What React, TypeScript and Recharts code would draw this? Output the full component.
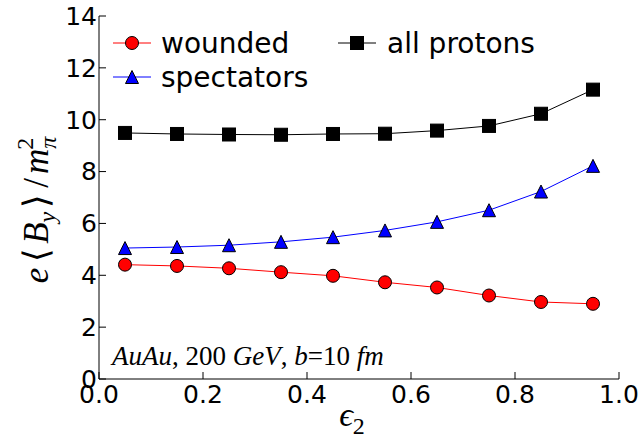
import { LineChart, Line, XAxis, YAxis, Customized } from "recharts";

const eps2 = [0.05, 0.15, 0.25, 0.35, 0.45, 0.55, 0.65, 0.75, 0.85, 0.95];
const wounded = [4.41, 4.36, 4.27, 4.12, 3.98, 3.73, 3.53, 3.22, 2.97, 2.9];
const spectators = [5.05, 5.09, 5.16, 5.29, 5.47, 5.73, 6.06, 6.51, 7.23, 8.22];
const allProtons = [9.49, 9.45, 9.43, 9.42, 9.45, 9.46, 9.58, 9.76, 10.23, 11.16];
const xTicks = [0, 0.2, 0.4, 0.6, 0.8, 1.0];
const yTicks = [0, 2, 4, 6, 8, 10, 12, 14];

const data = eps2.map((e, i) => ({
  eps: e,
  wounded: wounded[i],
  spectators: spectators[i],
  all: allProtons[i],
}));

const S = 6.5;
const tickFont = { fontFamily: "DejaVu Sans", fontSize: 25, fill: "#000" };
const mathFont = "Liberation Serif";

function Circle({ cx, cy }: any) {
  return <circle cx={cx} cy={cy} r={S} fill="#ff0000" stroke="#000" strokeWidth={1} />;
}
function Triangle({ cx, cy }: any) {
  return (
    <polygon
      points={`${cx},${cy - S} ${cx - S},${cy + S} ${cx + S},${cy + S}`}
      fill="#0000ff"
      stroke="#000"
      strokeWidth={1}
    />
  );
}
function Square({ cx, cy }: any) {
  return <rect x={cx - S} y={cy - S} width={2 * S} height={2 * S} fill="#000" stroke="#000" />;
}

function Overlay() {
  const legText = { fontFamily: "DejaVu Sans", fontSize: 28, fill: "#000" };
  return (
    <g>
      {/* legend */}
      <line x1={113} x2={151} y1={43} y2={43} stroke="#ff0000" />
      <Circle cx={132} cy={43} />
      <text x={161} y={53} {...legText}>wounded</text>
      <line x1={113} x2={151} y1={77} y2={77} stroke="#0000ff" />
      <Triangle cx={132} cy={77} />
      <text x={161} y={87} {...legText}>spectators</text>
      <line x1={338} x2={376} y1={43} y2={43} stroke="#000" />
      <Square cx={357} cy={43} />
      <text x={387} y={53} {...legText}>all protons</text>

      {/* annotation */}
      <text x={112} y={365} fontFamily={mathFont} fontSize={27} fill="#000">
        <tspan fontStyle="italic">AuAu</tspan>
        <tspan>, 200 </tspan>
        <tspan fontStyle="italic">GeV</tspan>
        <tspan>, </tspan>
        <tspan fontStyle="italic">b</tspan>
        <tspan>=10 </tspan>
        <tspan fontStyle="italic">fm</tspan>
      </text>

      {/* x label */}
      <text x={352} y={426} fontFamily={mathFont} fontSize={34} fill="#000" textAnchor="middle">
        <tspan fontStyle="italic">ϵ</tspan>
        <tspan fontSize={24} dy={8}>2</tspan>
      </text>

      {/* y label */}
      <text
        x={0}
        y={0}
        transform="translate(48,210) rotate(-90)"
        fontFamily={mathFont}
        fontSize={35}
        fill="#000"
        textAnchor="middle"
      >
        <tspan fontStyle="italic">e</tspan>
        <tspan dx={6}>⟨</tspan>
        <tspan fontStyle="italic" dx={4}>B</tspan>
        <tspan fontStyle="italic" fontSize={24} dy={7}>y</tspan>
        <tspan dy={-7} dx={4}>⟩</tspan>
        <tspan dx={6}>/</tspan>
        <tspan fontStyle="italic" dx={4}>m</tspan>
        <tspan fontStyle="italic" fontSize={24} dy={8}>π</tspan>
        <tspan fontSize={24} dx={-13} dy={-23}>2</tspan>
      </text>
    </g>
  );
}

export default function App() {
  return (
    <div style={{ position: "absolute", left: 0, top: 0, background: "#fff" }}>
      <LineChart width={644} height={442} data={data} margin={{ top: 16, right: 25, bottom: 0, left: 0 }}>
        <XAxis
          dataKey="eps"
          type="number"
          domain={[0, 1]}
          ticks={xTicks}
          tickFormatter={(v: number) => v.toFixed(1)}
          height={63}
          tickSize={-7}
          tickMargin={13}
          tick={tickFont}
          stroke="#000"
          allowDataOverflow
        />
        <XAxis
          xAxisId="t"
          orientation="top"
          type="number"
          domain={[0, 1]}
          ticks={xTicks}
          height={0}
          tickSize={-7}
          tick={false}
          stroke="#000"
        />
        <YAxis
          type="number"
          domain={[0, 14]}
          ticks={yTicks}
          width={99}
          tickSize={-7}
          tickMargin={9}
          tick={tickFont}
          stroke="#000"
        />
        <YAxis
          yAxisId="r"
          orientation="right"
          type="number"
          domain={[0, 14]}
          ticks={yTicks}
          width={0}
          tickSize={-7}
          tick={false}
          stroke="#000"
        />
        <Line
          dataKey="wounded"
          stroke="#ff0000"
          strokeWidth={1}
          isAnimationActive={false}
          dot={(p: any) => <Circle key={`w${p.index}`} cx={p.cx} cy={p.cy} />}
        />
        <Line
          dataKey="spectators"
          stroke="#0000ff"
          strokeWidth={1}
          isAnimationActive={false}
          dot={(p: any) => <Triangle key={`s${p.index}`} cx={p.cx} cy={p.cy} />}
        />
        <Line
          dataKey="all"
          stroke="#000"
          strokeWidth={1}
          isAnimationActive={false}
          dot={(p: any) => <Square key={`a${p.index}`} cx={p.cx} cy={p.cy} />}
        />
        <Customized component={Overlay} />
      </LineChart>
    </div>
  );
}
